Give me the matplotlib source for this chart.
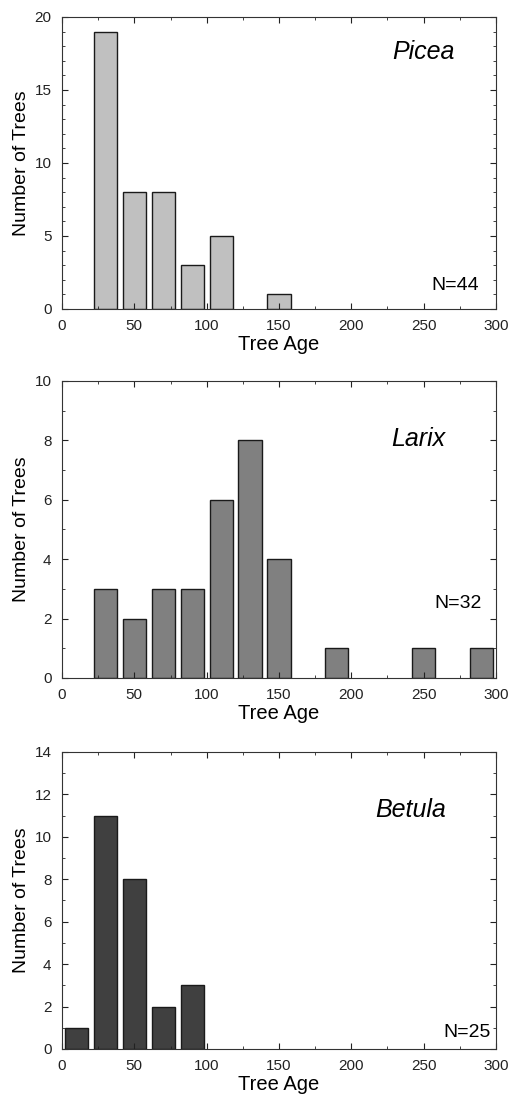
#======================================================================
#   IMPORTS:
#======================================================================

from matplotlib import pyplot as plt
from matplotlib.ticker import MultipleLocator


#======================================================================
#   DATA:
#======================================================================

ls_picea_age = [30, 50, 70, 90, 110, 150]
ls_picea_num = [19, 8, 8, 3, 5, 1]

ls_larix_age = [30, 50, 70, 90, 110, 130, 150, 190, 250, 290]
ls_larix_num = [3, 2, 3, 3, 6, 8, 4, 1, 1, 1]

ls_betula_age = [10, 30, 50, 70, 90]
ls_betula_num = [1, 11, 8, 2, 3]

ls_names = ['Picea', 'Larix', 'Betula']
ls_n_labels = ['N=44', 'N=32', 'N=25']


#======================================================================
#   MAIN:
#======================================================================

if (__name__ == '__main__'):

    plt.rcParams['font.family'] = ['Liberation Sans', 'DejaVu Sans']

    fig = plt.figure(figsize=(5.15, 10.96), dpi=100)

    # axes boxes (left, bottom, width, height)
    ls_boxes = [[0.1204, 0.7181, 0.8427, 0.2664],
                [0.1204, 0.3814, 0.8427, 0.2710],
                [0.1204, 0.0429, 0.8427, 0.2710]]

    ls_ages = [ls_picea_age, ls_larix_age, ls_betula_age]
    ls_nums = [ls_picea_num, ls_larix_num, ls_betula_num]
    ls_colors = ['#c0c0c0', '#808080', '#404040']
    ls_ymax = [20, 10, 14]
    ls_ystep = [5, 2, 2]
    ls_name_pos = [(250, 17.6), (246, 8.05), (241, 11.27)]
    ls_n_pos = [(272, 1.6), (274, 2.5), (280, 0.8)]

    for i in range(3):
        ax = fig.add_axes(ls_boxes[i])
        ax.bar(ls_ages[i], ls_nums[i], width=16, color=ls_colors[i],
               edgecolor='#1a1a1a', linewidth=1.0)

        ax.set_xlim(0, 300)
        ax.set_ylim(0, ls_ymax[i])
        ax.xaxis.set_major_locator(MultipleLocator(50))
        ax.xaxis.set_minor_locator(MultipleLocator(25))
        ax.yaxis.set_major_locator(MultipleLocator(ls_ystep[i]))
        ax.yaxis.set_minor_locator(MultipleLocator(1))
        ax.tick_params(which='both', direction='in', top=True, right=True,
                       labelsize=11, colors='#222222')
        ax.tick_params(which='major', length=4)
        ax.tick_params(which='minor', length=2)
        ax.tick_params(axis='x', which='major', pad=7.5)
        ax.tick_params(axis='y', which='major', pad=7.5)
        for sp in ax.spines.values():
            sp.set_color('#333333')

        ax.set_xlabel('Tree Age', fontsize=14.5, labelpad=1)
        ax.set_ylabel('Number of Trees', fontsize=14, labelpad=3)

        ax.text(ls_name_pos[i][0], ls_name_pos[i][1], ls_names[i],
                fontsize=18, style='italic', ha='center', va='center')
        ax.text(ls_n_pos[i][0], ls_n_pos[i][1], ls_n_labels[i],
                fontsize=14, ha='center', va='center')

    plt.savefig('out.png', dpi=100)
